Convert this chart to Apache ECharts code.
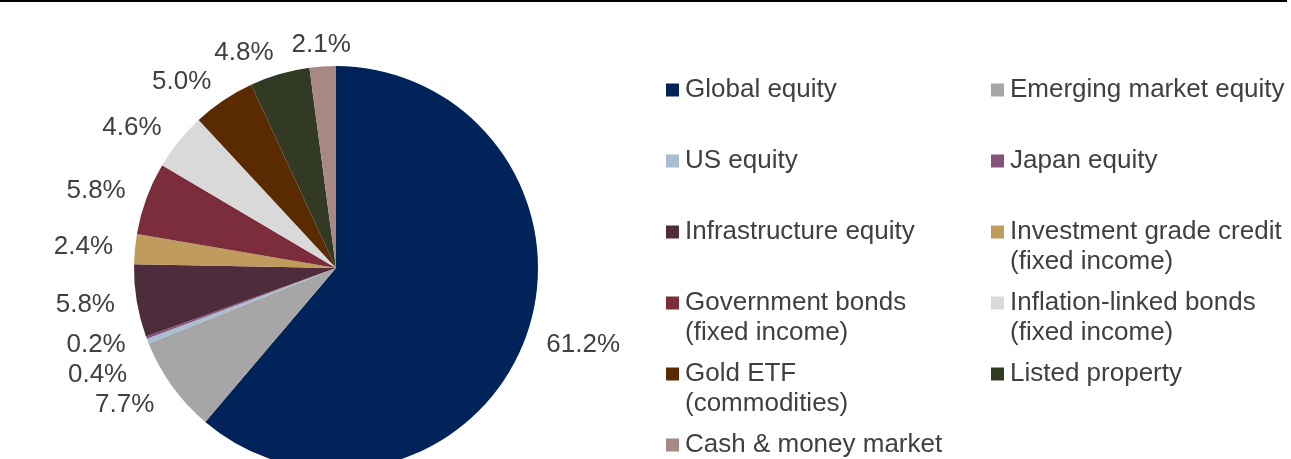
<!DOCTYPE html>
<html>
<head>
<meta charset="utf-8">
<script src="https://cdn.jsdelivr.net/npm/echarts@6/dist/echarts.min.js"></script>
<style>
html,body{margin:0;padding:0;background:#fff;}
#chart{width:1291px;height:459px;}
</style>
</head>
<body>
<div id="chart"></div>
<script>
// ---- data ----
const categories = [
  'Global equity',
  'Emerging market equity',
  'US equity',
  'Japan equity',
  'Infrastructure equity',
  'Investment grade credit\n(fixed income)',
  'Government bonds\n(fixed income)',
  'Inflation-linked bonds\n(fixed income)',
  'Gold ETF\n(commodities)',
  'Listed property',
  'Cash & money market'
];
const values = [61.2, 7.7, 0.4, 0.2, 5.8, 2.4, 5.8, 4.6, 5.0, 4.8, 2.1];
const colors = ['#00235A', '#A6A6A6', '#A9BED1', '#84547A', '#4E2C3C', '#C09B5E',
                '#7B2D3B', '#D9D9D9', '#5A2A00', '#333A24', '#A88885'];

// labels that are crowded together and get spread vertically
const crowdedLabels = [1, 2, 3];

// legend layout (two columns, rows)
const legendCols = [666, 991];
const legendRowCenters = [90, 161, 232, 303, 374, 445];

const fontFamily = '"Liberation Sans", Arial, sans-serif';
const textColor = '#404040';

const legends = categories.map((name, i) => {
  const multi = name.indexOf('\n') >= 0;
  const col = i % 2, row = Math.floor(i / 2);
  return {
    show: true,
    data: [name],
    left: legendCols[col],
    top: legendRowCenters[row] - (multi ? 45 : 15),
    padding: 0,
    icon: 'rect',
    itemWidth: 13,
    itemHeight: 13,
    itemGap: 0,
    selectedMode: false,
    formatter: n => (n.indexOf('\n') >= 0 ? '\n' + n : n),
    textStyle: { fontSize: 26, lineHeight: 30, color: textColor, fontFamily: fontFamily, padding: [0, 0, 0, 1] }
  };
});

const chart = echarts.init(document.getElementById('chart'), null, { renderer: 'canvas' });
chart.setOption({
  animation: false,
  backgroundColor: '#fff',
  color: colors,
  graphic: [{
    type: 'rect',
    shape: { x: 0, y: 0, width: 1287, height: 2 },
    style: { fill: '#000' },
    silent: true
  }],
  legend: legends,
  series: [{
    type: 'pie',
    center: [336, 268],
    radius: 202,
    startAngle: 90,
    clockwise: true,
    avoidLabelOverlap: false,
    emphasis: { disabled: true },
    itemStyle: { borderWidth: 0 },
    label: {
      show: true,
      position: 'outside',
      formatter: p => p.value.toFixed(1) + '%',
      fontSize: 26,
      lineHeight: 30,
      color: textColor,
      fontFamily: fontFamily,
      distanceToLabelLine: 0
    },
    labelLine: { show: false, length: 22, length2: 0 },
    labelLayout: p => {
      if (p.dataIndex === categories.length - 1) return { align: 'center' };
      if (crowdedLabels.indexOf(p.dataIndex) >= 0) return { moveOverlap: 'shiftY' };
      return {};
    },
    data: categories.map((c, i) => ({ name: c, value: values[i] }))
  }]
});
</script>
</body>
</html>
